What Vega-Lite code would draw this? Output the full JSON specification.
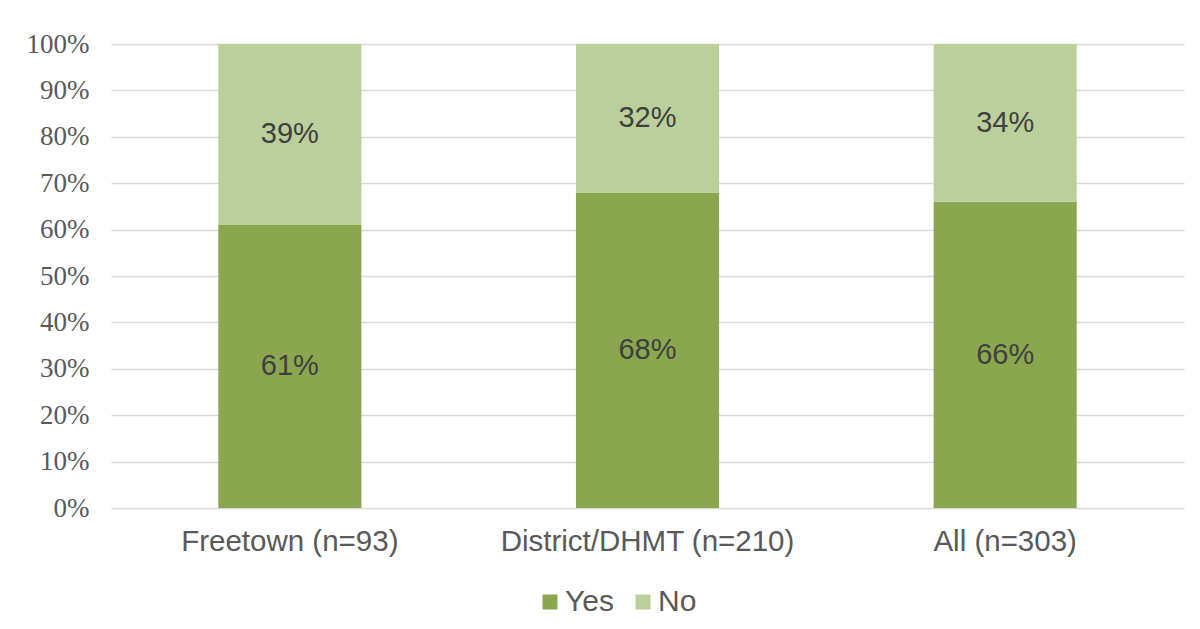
{
  "$schema": "https://vega.github.io/schema/vega-lite/v6.json",
  "width": 1073,
  "height": 464,
  "autosize": {"type": "none"},
  "padding": {"left": 111, "top": 44, "right": 16, "bottom": 121},
  "background": "white",
  "data": {
    "values": [
      {"category": "Freetown (n=93)", "answer": "Yes", "order": 1, "value": 0.61},
      {"category": "Freetown (n=93)", "answer": "No", "order": 2, "value": 0.39},
      {"category": "District/DHMT (n=210)", "answer": "Yes", "order": 1, "value": 0.68},
      {"category": "District/DHMT (n=210)", "answer": "No", "order": 2, "value": 0.32},
      {"category": "All (n=303)", "answer": "Yes", "order": 1, "value": 0.66},
      {"category": "All (n=303)", "answer": "No", "order": 2, "value": 0.34}
    ]
  },
  "transform": [
    {"stack": "value", "groupby": ["category"], "sort": [{"field": "order"}], "as": ["v0", "v1"]},
    {"calculate": "(datum.v0 + datum.v1) / 2", "as": "mid"}
  ],
  "encoding": {
    "x": {
      "field": "category",
      "type": "nominal",
      "sort": null,
      "title": null,
      "scale": {"paddingInner": 0.6, "paddingOuter": 0.3},
      "axis": {
        "labelAngle": 0,
        "labelFont": "Liberation Sans",
        "labelFontSize": 29.5,
        "labelColor": "#595959",
        "labelPadding": 19,
        "labelLimit": 0,
        "ticks": false,
        "domain": false
      }
    }
  },
  "layer": [
    {
      "mark": {"type": "bar"},
      "encoding": {
        "y": {
          "field": "v0",
          "type": "quantitative",
          "scale": {"domain": [0, 1]},
          "title": null,
          "axis": {
            "values": [0, 0.1, 0.2, 0.3, 0.4, 0.5, 0.6, 0.7, 0.8, 0.9, 1],
            "format": ".0%",
            "labelFont": "Liberation Serif",
            "labelFontSize": 27,
            "labelColor": "#595959",
            "labelPadding": 22,
            "ticks": false,
            "domain": false,
            "grid": true,
            "gridColor": "#d9d9d9",
            "gridWidth": 1.5
          }
        },
        "y2": {"field": "v1"},
        "color": {
          "field": "answer",
          "type": "nominal",
          "sort": ["Yes", "No"],
          "scale": {"domain": ["Yes", "No"], "range": ["#8aa64e", "#bbcf9a"]},
          "legend": {
            "title": null,
            "orient": "none",
            "direction": "horizontal",
            "legendX": 424,
            "legendY": 543,
            "symbolType": "square",
            "symbolSize": 225,
            "symbolStrokeWidth": 0,
            "labelFont": "Liberation Sans",
            "labelFontSize": 30,
            "labelColor": "#595959",
            "labelOffset": 0,
            "columnPadding": 14
          }
        }
      }
    },
    {
      "mark": {"type": "text", "font": "Liberation Sans", "fontSize": 29, "color": "#404040", "baseline": "middle"},
      "encoding": {
        "y": {"field": "mid", "type": "quantitative"},
        "text": {"field": "value", "type": "quantitative", "format": ".0%"}
      }
    }
  ],
  "config": {"view": {"stroke": null}}
}
